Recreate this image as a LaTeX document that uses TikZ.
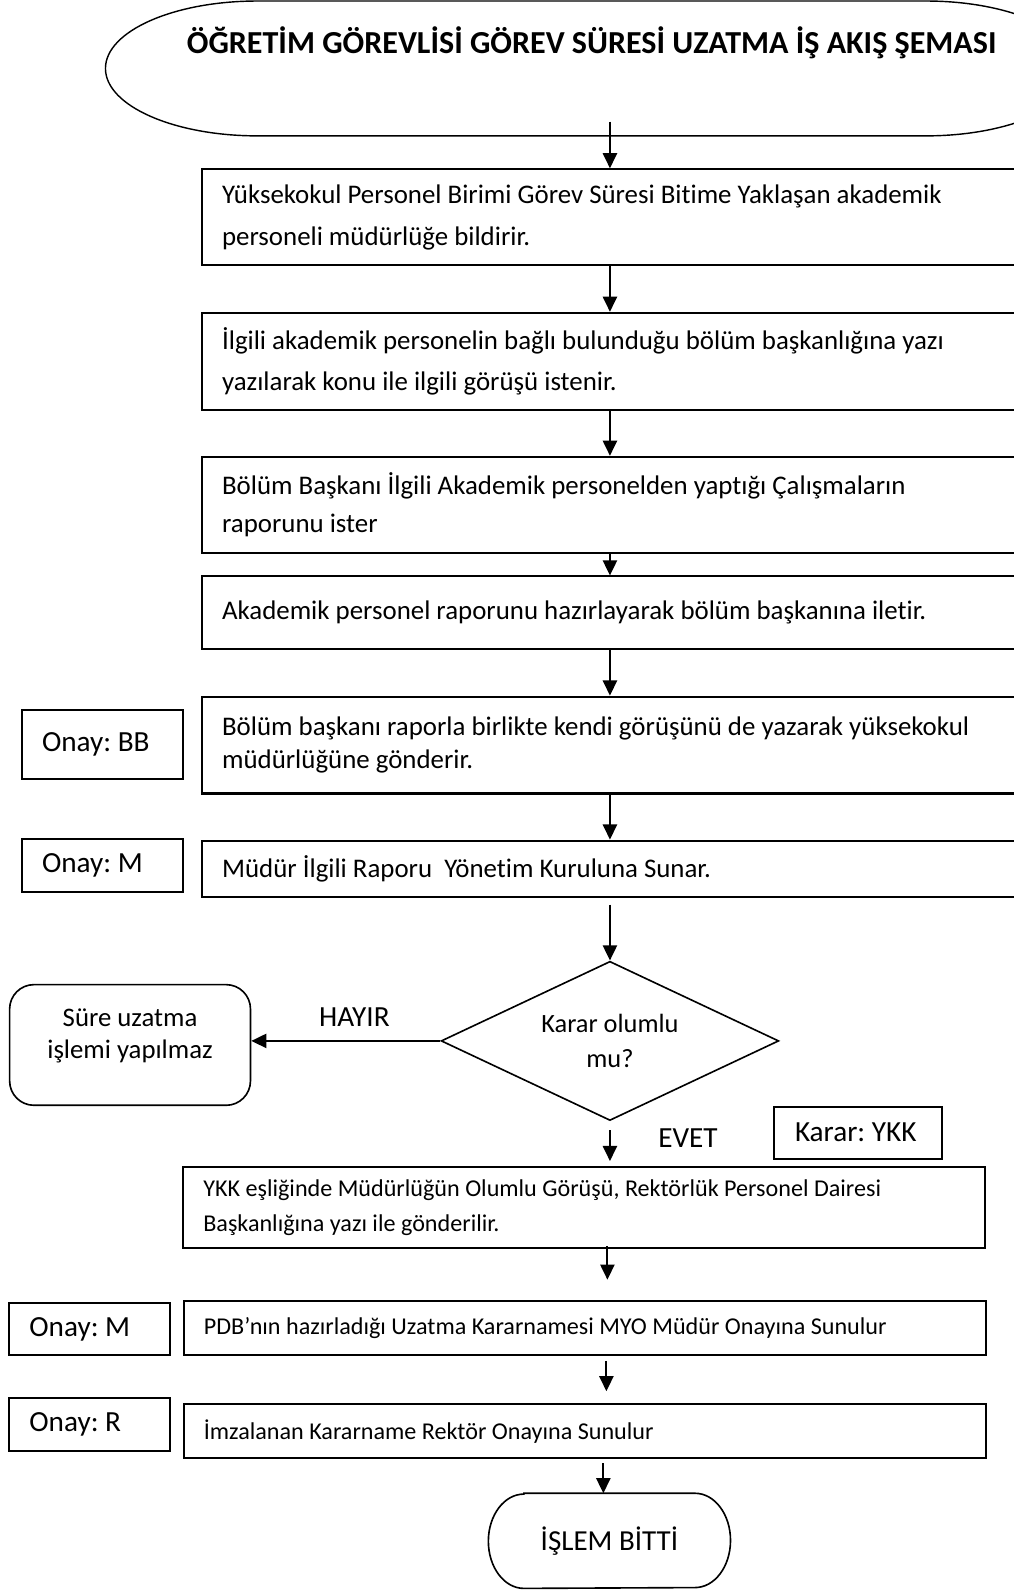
\documentclass[tikz,border=0pt]{standalone}
\usepackage{fontspec}
\setmainfont{Carlito}[Ligatures=NoCommon]
\usetikzlibrary{shapes.geometric,arrows.meta,calc}
\frenchspacing

\begin{document}
\begin{tikzpicture}[x=0.5pt,y=-0.5pt,
  arr/.style={line width=1pt,-{Triangle[length=7.5pt,width=7pt]}},
  procbox/.style={draw,line width=1pt,rectangle,align=flush left,inner xsep=10pt,inner ysep=0pt},
  smallfont/.style={font=\fontsize{11.9}{17.5}\selectfont},
  tagbox/.style={draw,line width=1pt,rectangle,align=flush left,inner xsep=10pt,inner ysep=0pt,
    font=\fontsize{14.4}{17}\selectfont},
  lbl/.style={font=\fontsize{14.4}{17}\selectfont,inner sep=0pt}
]
\useasboundingbox (0,0) rectangle (999,1568);

% title terminator (runs off the right edge)
\draw[line width=0.7pt] (254,1) -- (913,1)
  arc[start angle=90,end angle=-90,x radius=75pt,y radius=33.25pt]
  -- (254,134)
  arc[start angle=270,end angle=90,x radius=75pt,y radius=33.25pt] -- cycle;
\node[font=\fontsize{15.8}{19}\bfseries\selectfont,anchor=base] (title) at (583.5,53)
  {ÖĞRETİM GÖREVLİSİ GÖREV SÜRESİ UZATMA İŞ AKIŞ ŞEMASI};
\coordinate (t0) at (601.5,120);

% process steps
\node[procbox,font=\fontsize{13.25}{20.5}\selectfont,text width=385.5pt,minimum height=47.25pt] (b1) at (604.5,214.25)
  {Yüksekokul Personel Birimi Görev Süresi Bitime Yaklaşan akademik\\personeli müdürlüğe bildirir.};
\node[procbox,font=\fontsize{13.25}{20}\selectfont,text width=385.5pt,minimum height=47.75pt] (b2) at (604.5,356.25)
  {İlgili akademik personelin bağlı bulunduğu bölüm başkanlığına yazı\\yazılarak konu ile ilgili görüşü istenir.};
\node[procbox,font=\fontsize{13.25}{19}\selectfont,text width=385.5pt,minimum height=47.25pt] (b3) at (604.5,497.75)
  {Bölüm Başkanı İlgili Akademik personelden yaptığı Çalışmaların\\raporunu ister};
\node[procbox,font=\fontsize{13.25}{19}\selectfont,text width=385.5pt,minimum height=35.75pt] (b4) at (604.5,604.25)
  {Akademik personel raporunu hazırlayarak bölüm başkanına iletir.};
\node[procbox,font=\fontsize{13.25}{16}\selectfont,text width=385.5pt,minimum height=47.75pt] (b5) at (604.5,734.75)
  {Bölüm başkanı raporla birlikte kendi görüşünü de yazarak yüksekokul\\müdürlüğüne gönderir.};
\node[procbox,font=\fontsize{13.25}{19}\selectfont,text width=385.5pt,minimum height=28pt] (b6) at (604.5,857)
  {Müdür İlgili Raporu~ Yönetim Kuruluna Sunar.};

% decision
\node[draw,line width=0.8pt,diamond,shape aspect=2.12,inner sep=0pt,minimum width=166.5pt,
  minimum height=78.5pt,align=flush center,font=\fontsize{13}{17.25}\selectfont] (d) at (601.5,1026.5)
  {Karar olumlu\\mu?};

% negative outcome
\node[draw,line width=0.8pt,rectangle,rounded corners=12pt,minimum width=118.75pt,
  minimum height=59.5pt] (nb) at (128.25,1030.5) {};
\node[align=flush center,font=\fontsize{13.2}{15.5}\selectfont,inner sep=0pt] (nbt) at (128.25,1021.5)
  {Süre uzatma\\işlemi yapılmaz};

% positive path
\node[procbox,smallfont,text width=375.5pt,minimum height=40pt] (b7) at (576,1191)
  {YKK eşliğinde Müdürlüğün Olumlu Görüşü, Rektörlük Personel Dairesi\\Başkanlığına yazı ile gönderilir.};
\node[procbox,smallfont,text width=375.5pt,minimum height=26.5pt] (b8) at (576.5,1309.5)
  {PDB’nın hazırladığı Uzatma Kararnamesi MYO Müdür Onayına Sunulur};
\node[procbox,smallfont,text width=375.5pt,minimum height=26.5pt] (b9) at (576.5,1411.5)
  {İmzalanan Kararname Rektör Onayına Sunulur};

% end terminator
\node[minimum width=119pt,minimum height=46.5pt,inner sep=0pt,font=\fontsize{14.3}{17}\selectfont]
  (en) at (601,1519.5) {İŞLEM BİTTİ};
\draw[line width=0.8pt] ($(en.north west)+(35,0)$) -- ($(en.north east)+(-35,0)$)
  arc[start angle=90,end angle=-90,x radius=17.5pt,y radius=23.25pt]
  -- ($(en.south west)+(35,0)$)
  arc[start angle=270,end angle=90,x radius=17.5pt,y radius=23.25pt] -- cycle;

% approval tags
\node[tagbox,text width=59.25pt,minimum height=34pt] (o1) at (100.75,734) {Onay: BB};
\node[tagbox,text width=59.25pt,minimum height=26.5pt] (o2) at (100.75,853.5) {Onay: M};
\node[tagbox,text width=59.5pt,minimum height=25.5pt] (o3) at (88.5,1310.5) {Onay: M};
\node[tagbox,text width=59.5pt,minimum height=26pt] (o4) at (88.5,1405) {Onay: R};
\node[tagbox,inner xsep=10.5pt,text width=62pt,minimum height=25.5pt] (ykk) at (846,1117) {Karar: YKK};

% branch labels
\node[lbl] (hayir) at (349.5,1002.6) {HAYIR};
\node[lbl] (evet) at (678.5,1122.6) {EVET};

% connectors
\coordinate (c1) at (601.5,0);
\draw[arr] (t0) -- (t0 |- b1.north);
\draw[arr] (b1.south -| c1) -- (b2.north -| c1);
\draw[arr] (b2.south -| c1) -- (b3.north -| c1);
\draw[arr] (b3.south -| c1) -- (b4.north -| c1);
\draw[arr] (b4.south -| c1) -- (b5.north -| c1);
\draw[arr] (b5.south -| c1) -- (b6.north -| c1);
\draw[arr] ($(b6.south -| c1)+(0,6)$) -- (d.north);
\draw[arr] (d.west) -- (d.west -| nb.east);
\draw[arr] ($(d.south)+(0,9)$) -- ($(b7.north -| d.south)+(0,-5)$);
\coordinate (c2) at (599,0);
\draw[arr] ($(b7.south -| c2)+(0,-3)$) -- ($(b8.north -| c2)+(0,-20)$);
\coordinate (c3) at (598,0);
\draw[arr] ($(b8.south -| c3)+(0,5)$) -- ($(b9.north -| c3)+(0,-12)$);
\coordinate (c4) at (595,0);
\draw[arr] ($(b9.south -| c4)+(0,4)$) -- (en.north -| c4);
\end{tikzpicture}
\end{document}
